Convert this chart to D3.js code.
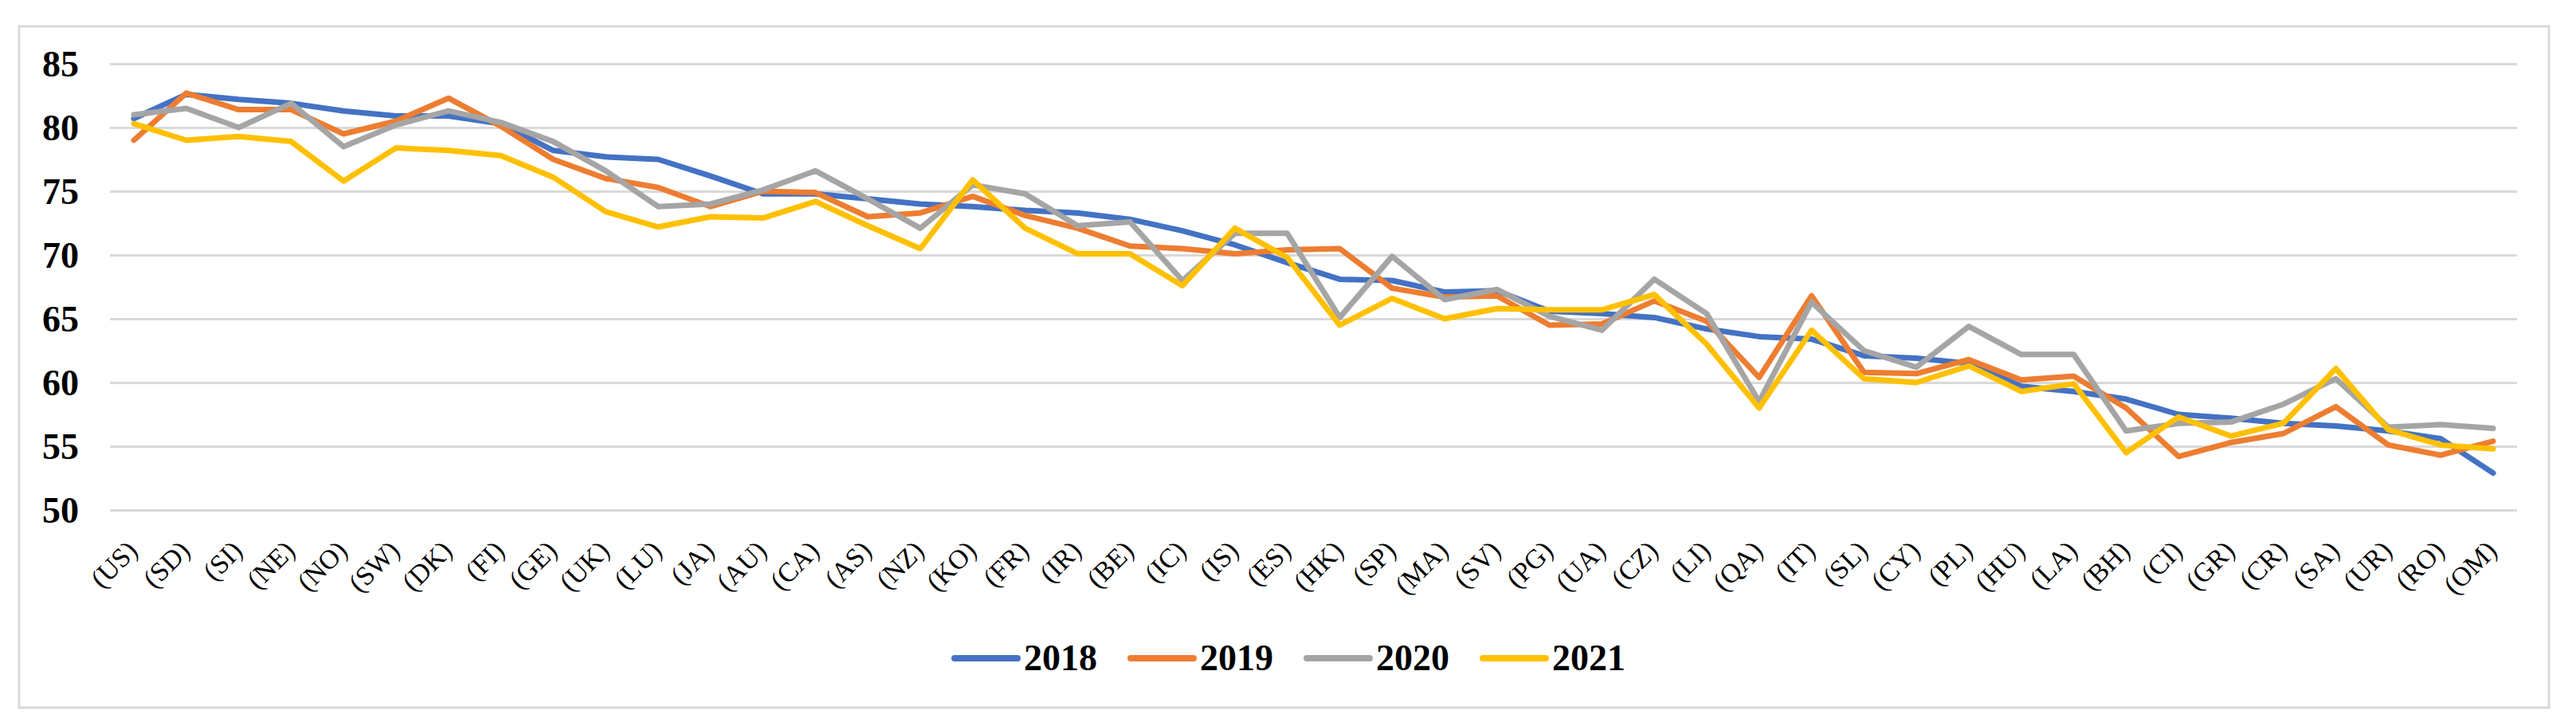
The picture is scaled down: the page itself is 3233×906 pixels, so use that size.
<!DOCTYPE html>
<html>
<head>
<meta charset="utf-8">
<script src="https://cdn.jsdelivr.net/npm/d3@7/dist/d3.min.js"></script>
<style>
  html, body { margin: 0; padding: 0; background: #ffffff; }
  svg { display: block; }
</style>
</head>
<body>
<svg id="chart" width="3233" height="906"></svg>
<script>
const categories = ["(US)","(SD)","(SI)","(NE)","(NO)","(SW)","(DK)","(FI)","(GE)","(UK)","(LU)","(JA)","(AU)","(CA)","(AS)","(NZ)","(KO)","(FR)","(IR)","(BE)","(IC)","(IS)","(ES)","(HK)","(SP)","(MA)","(SV)","(PG)","(UA)","(CZ)","(LI)","(QA)","(IT)","(SL)","(CY)","(PL)","(HU)","(LA)","(BH)","(CI)","(GR)","(CR)","(SA)","(UR)","(RO)","(OM)"];

const seriesNames = ["2018", "2019", "2020", "2021"];

const values2018 = [80.7,82.6,82.2,81.9,81.3,80.9,80.9,80.3,78.2,77.7,77.5,76.2,74.8,74.8,74.4,74.0,73.8,73.5,73.3,72.8,71.9,70.8,69.4,68.1,68.0,67.1,67.2,65.6,65.4,65.1,64.2,63.6,63.4,62.1,61.9,61.5,59.7,59.3,58.7,57.5,57.2,56.8,56.6,56.2,55.6,52.9];
const values2019 = [79.0,82.7,81.4,81.4,79.5,80.5,82.3,80.1,77.5,76.0,75.3,73.8,75.0,74.9,73.0,73.3,74.6,73.1,72.1,70.7,70.5,70.1,70.4,70.5,67.4,66.7,66.8,64.5,64.6,66.4,64.8,60.4,66.8,60.8,60.7,61.8,60.2,60.5,58.0,54.2,55.3,56.0,58.1,55.1,54.3,55.4];
const values2020 = [81.0,81.5,80.0,81.9,78.5,80.2,81.3,80.4,78.9,76.6,73.8,74.0,75.1,76.6,74.4,72.1,75.5,74.8,72.3,72.6,68.0,71.7,71.7,65.1,69.9,66.5,67.3,65.2,64.1,68.1,65.4,58.5,66.3,62.5,61.2,64.4,62.2,62.2,56.2,56.8,56.9,58.3,60.3,56.5,56.7,56.4];
const values2021 = [80.3,79.0,79.3,78.9,75.8,78.4,78.2,77.8,76.1,73.4,72.2,73.0,72.9,74.2,72.3,70.5,75.9,72.1,70.1,70.1,67.6,72.1,69.8,64.5,66.6,65.0,65.8,65.7,65.7,66.9,63.0,58.0,64.1,60.3,60.0,61.3,59.3,59.9,54.5,57.3,55.8,56.8,61.1,56.3,55.1,54.8];

const yTicks = [50, 55, 60, 65, 70, 75, 80, 85];

const colors = ["#4472C4", "#ED7D31", "#A5A5A5", "#FFC000"];
const allSeries = [values2018, values2019, values2020, values2021];

const FONT = "'Liberation Serif', 'Times New Roman', Times, serif";

const svg = d3.select("#chart");

// outer chart border
svg.append("rect")
  .attr("x", 24).attr("y", 33)
  .attr("width", 3175).attr("height", 855)
  .attr("fill", "#ffffff")
  .attr("stroke", "#d9d9d9")
  .attr("stroke-width", 3);

const plotLeft = 138, plotRight = 3159, plotTop = 80, plotBottom = 640;

const x = d3.scalePoint()
  .domain(categories)
  .range([168, 3129]);

const y = d3.scaleLinear()
  .domain([50, 85])
  .range([plotBottom, plotTop]);

// Y axis with gridlines
const yAxis = svg.append("g")
  .attr("transform", `translate(${plotLeft},0)`)
  .call(d3.axisLeft(y)
    .tickValues(yTicks)
    .tickSize(-(plotRight - plotLeft))
    .tickPadding(39)
    .tickFormat(d3.format("d")));
yAxis.select(".domain").remove();
yAxis.selectAll(".tick line")
  .attr("stroke", "#d9d9d9")
  .attr("stroke-width", 3);
yAxis.selectAll(".tick text")
  .attr("fill", "#000")
  .attr("dy", "0.33em")
  .style("font-family", FONT)
  .style("font-size", "46px")
  .style("font-weight", "bold");

// X axis category labels
const xAxis = svg.append("g")
  .attr("transform", `translate(0,${plotBottom})`)
  .call(d3.axisBottom(x).tickSize(0).tickPadding(0));
xAxis.select(".domain").remove();
xAxis.selectAll(".tick text")
  .attr("x", 0).attr("y", 0).attr("dy", 0)
  .attr("text-anchor", "end")
  .attr("transform", "translate(6,53) rotate(-45)")
  .attr("fill", "#000")
  .style("font-family", FONT)
  .style("font-size", "34px");

// Lines
const line = d3.line()
  .x((d, i) => x(categories[i]))
  .y(d => y(d));

svg.append("g")
  .selectAll("path")
  .data(allSeries)
  .join("path")
  .attr("d", d => line(d))
  .attr("fill", "none")
  .attr("stroke", (d, i) => colors[i])
  .attr("stroke-width", 7)
  .attr("stroke-linejoin", "round")
  .attr("stroke-linecap", "round");

// Legend
const legend = svg.append("g");
const legendStart = 1195, legendStep = 221, legendY = 826;
const items = legend.selectAll("g")
  .data(seriesNames)
  .join("g")
  .attr("transform", (d, i) => `translate(${legendStart + i * legendStep},${legendY})`);
items.append("line")
  .attr("x1", 3).attr("x2", 82)
  .attr("y1", 0).attr("y2", 0)
  .attr("stroke", (d, i) => colors[i])
  .attr("stroke-width", 8)
  .attr("stroke-linecap", "round");
items.append("text")
  .attr("x", 90)
  .attr("y", 0)
  .attr("dy", "0.33em")
  .attr("fill", "#000")
  .style("font-family", FONT)
  .style("font-size", "46px")
  .style("font-weight", "bold")
  .text(d => d);
</script>
</body>
</html>
